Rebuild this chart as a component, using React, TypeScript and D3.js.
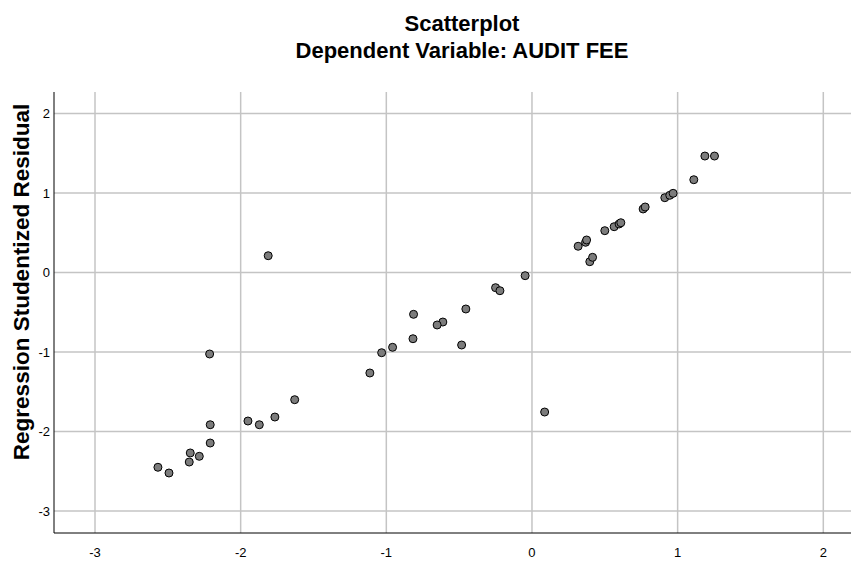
import React from "react";
import * as d3 from "d3";

const xValues: number[] = [
  -2.213, -1.629, -1.95, -1.872, -1.765, -2.209, -2.209, -2.346, -2.284, -2.353, -2.568, -2.492,
  -1.811,
  -0.047, -0.25, -0.22, -0.454, -0.813, -0.612, -0.651, -0.817, -0.483, -0.957, -1.032, -1.113, 0.087,
  0.317, 0.368, 0.375, 0.397, 0.416, 0.5, 0.564, 0.598, 0.61, 0.763, 0.777, 0.912, 0.946, 0.969, 1.111, 1.187, 1.253,
];
const yValues: number[] = [
  -1.025, -1.6, -1.868, -1.915, -1.818, -1.915, -2.145, -2.27, -2.312, -2.384, -2.45, -2.522,
  0.211,
  -0.04, -0.191, -0.229, -0.459, -0.526, -0.623, -0.66, -0.833, -0.912, -0.941, -1.009, -1.264, -1.755,
  0.33, 0.38, 0.409, 0.136, 0.191, 0.526, 0.576, 0.61, 0.626, 0.799, 0.824, 0.941, 0.971, 0.996, 1.167, 1.465, 1.465,
];
const xTicks: number[] = [-3, -2, -1, 0, 1, 2];
const yTicks: number[] = [-3, -2, -1, 0, 1, 2];
const titleLines: string[] = ["Scatterplot", "Dependent Variable: AUDIT FEE"];
const yLabel = "Regression Studentized Residual";

export default function App() {
  const W = 851, H = 563;
  const left = 54, right = 851, top = 92, bottom = 533;
  const x = d3.scaleLinear().domain([-3, 2]).range([95, 823.3]);
  const y = d3.scaleLinear().domain([-3, 2]).range([511, 113.5]);
  const font = "Arial, 'Liberation Sans', sans-serif";
  const pts = xValues.map((v, i) => ({ x: v, y: yValues[i] }));
  return (
    <svg width={W} height={H} style={{ position: "absolute", left: 0, top: 0, background: "#fff" }} fontFamily={font}>
      <rect x={0} y={0} width={W} height={H} fill="#fff" />
      {titleLines.map((t, i) => (
        <text key={t} x={462} y={31 + i * 27} textAnchor="middle" fontWeight="bold" fontSize={22} fill="#000">
          {t}
        </text>
      ))}
      {xTicks.map((t) => (
        <line key={"gx" + t} x1={x(t)} x2={x(t)} y1={top} y2={bottom} stroke="#c4c4c4" strokeWidth={1.5} />
      ))}
      {yTicks.map((t) => (
        <line key={"gy" + t} x1={left} x2={right} y1={y(t)} y2={y(t)} stroke="#c4c4c4" strokeWidth={1.5} />
      ))}
      <line x1={left} x2={left} y1={top} y2={bottom} stroke="#000" strokeWidth={1} />
      <line x1={left} x2={right} y1={bottom} y2={bottom} stroke="#000" strokeWidth={1} />
      {xTicks.map((t) => (
        <text key={"tx" + t} x={x(t)} y={557} textAnchor="middle" fontSize={13} fill="#000">
          {t}
        </text>
      ))}
      {yTicks.map((t) => (
        <text key={"ty" + t} x={50} y={y(t) + 4.5} textAnchor="end" fontSize={13} fill="#000">
          {t}
        </text>
      ))}
      <text
        transform={`translate(29,282) rotate(-90)`}
        textAnchor="middle"
        fontWeight="bold"
        fontSize={22.5}
        fill="#000"
      >
        {yLabel}
      </text>
      {pts.map((p, i) => (
        <circle key={i} cx={x(p.x)} cy={y(p.y)} r={4} fill="#7c7c7c" stroke="#000" strokeWidth={1} />
      ))}
    </svg>
  );
}
